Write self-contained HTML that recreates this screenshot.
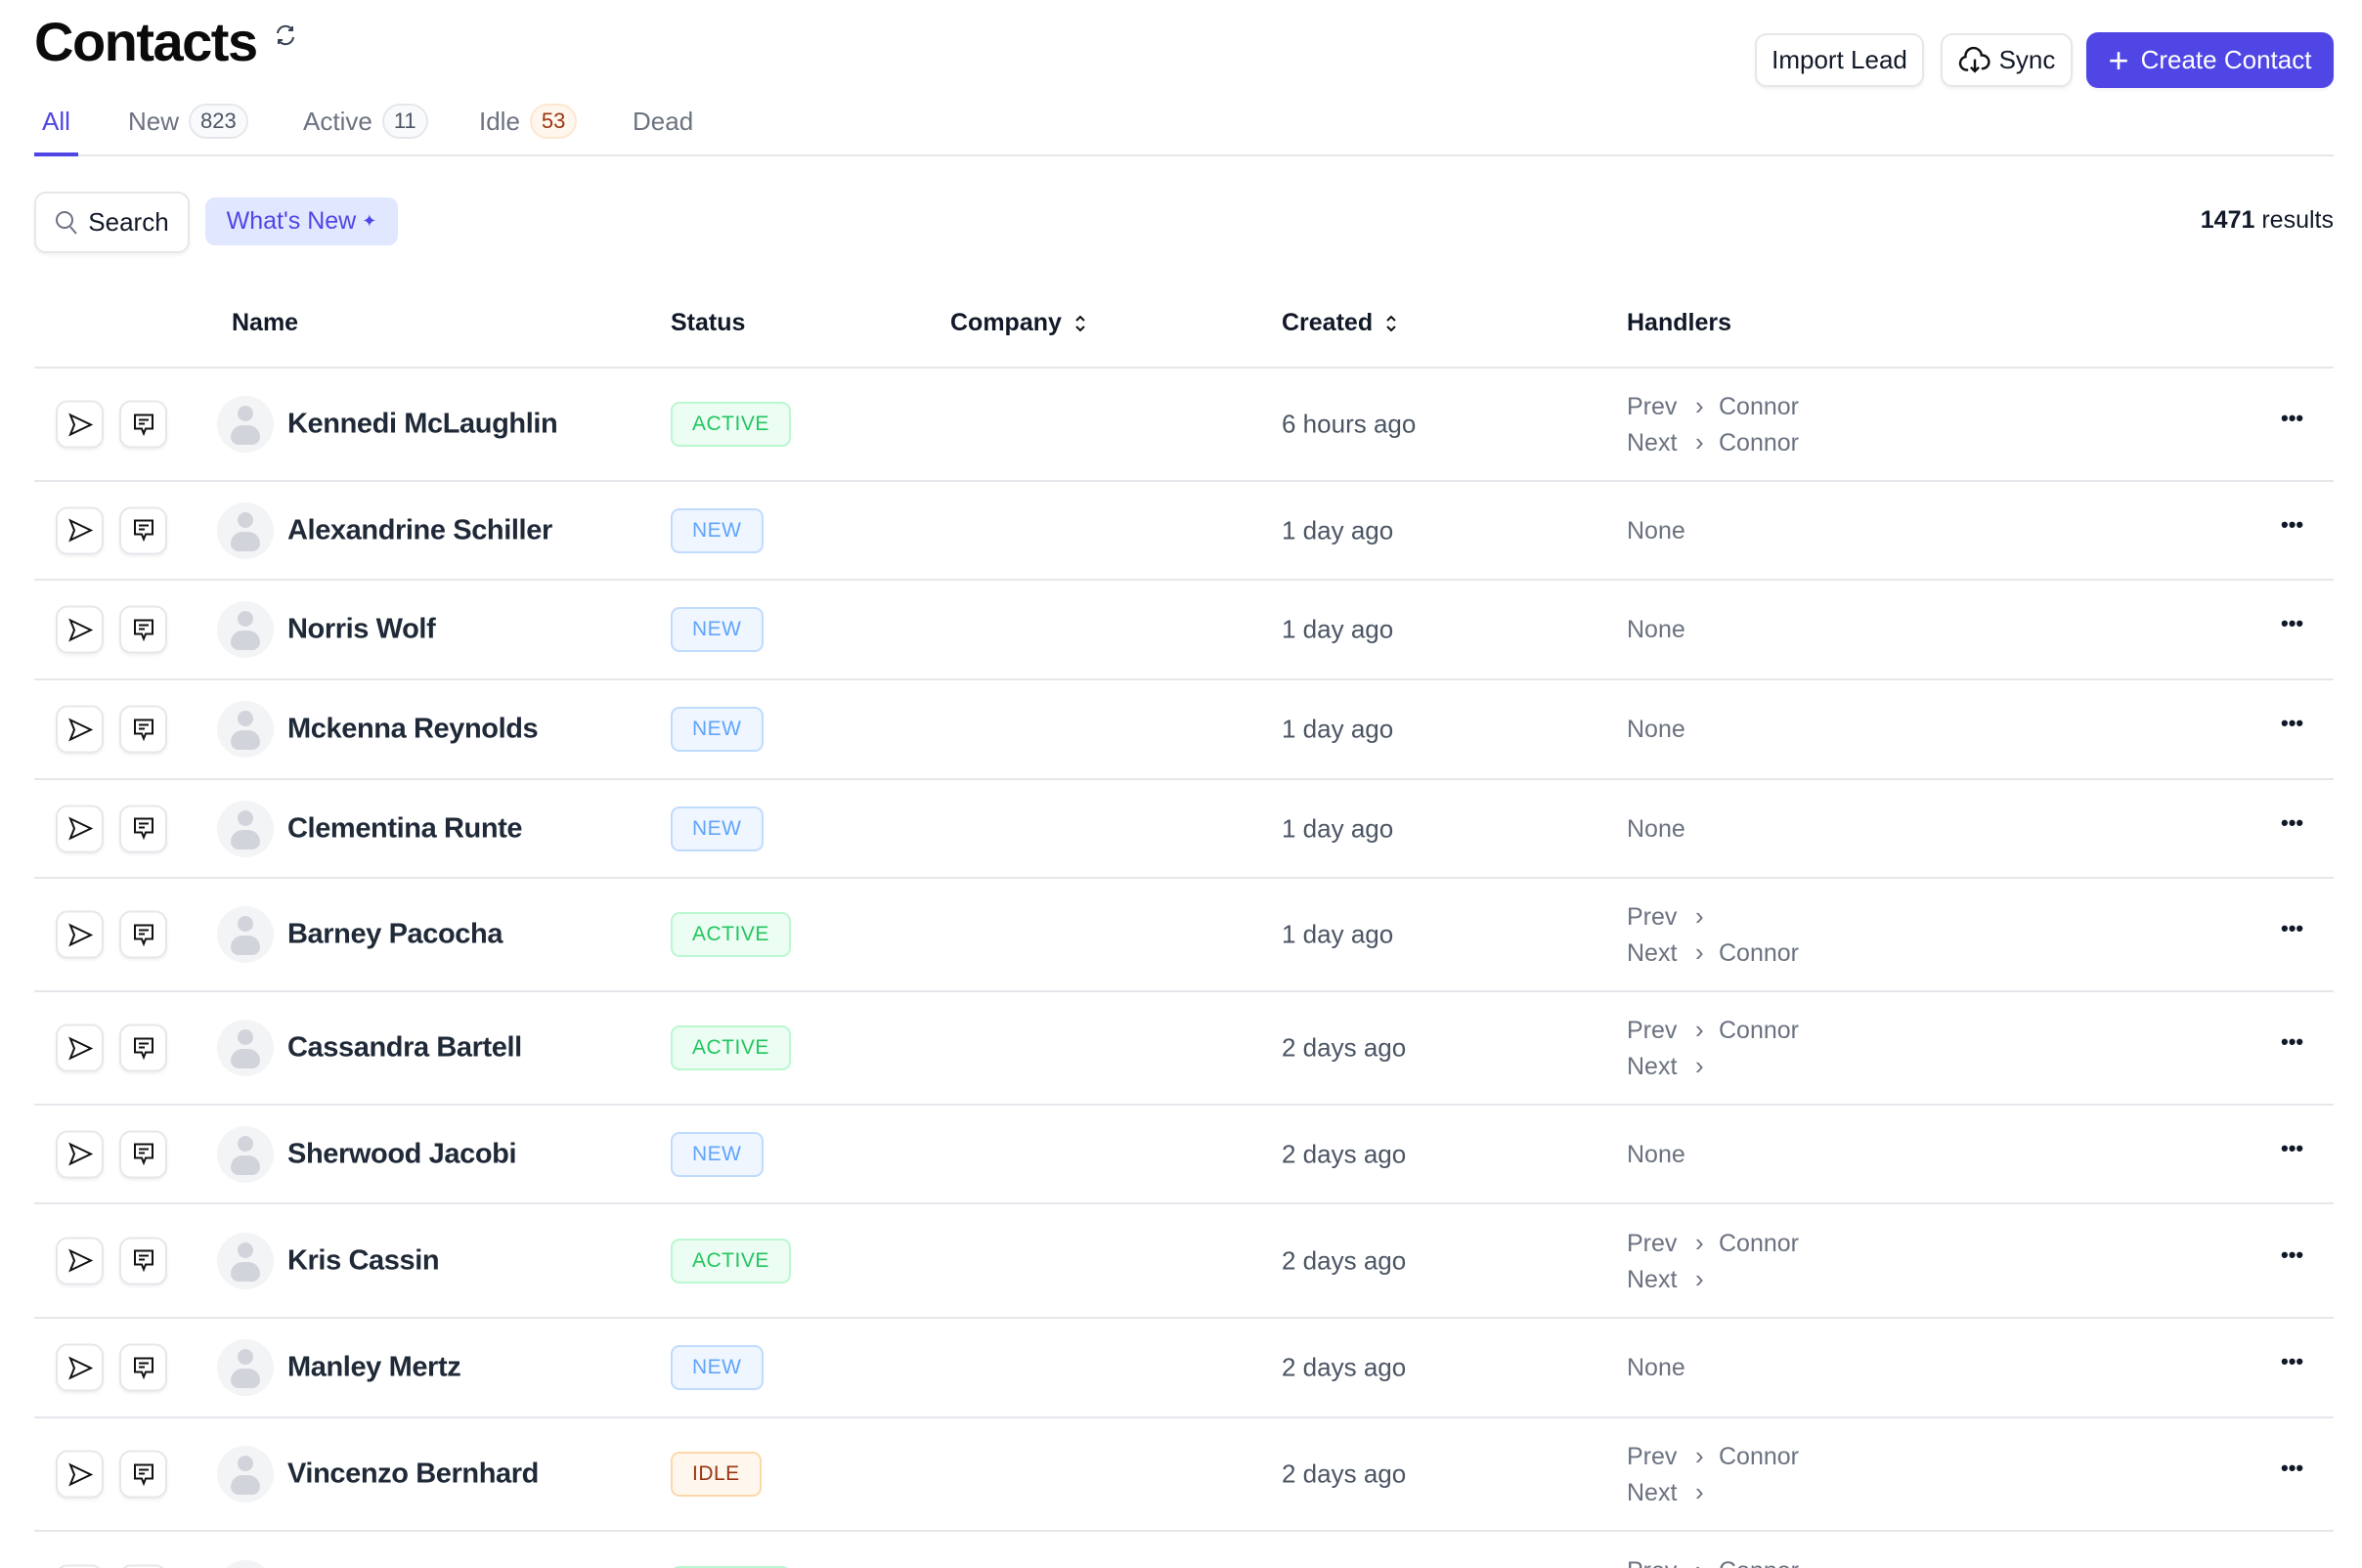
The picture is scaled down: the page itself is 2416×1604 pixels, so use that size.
<!DOCTYPE html>
<html style="height:1604px;overflow:hidden"><head><meta charset="utf-8"><style>
*{box-sizing:border-box;margin:0;padding:0}
body{width:2416px;height:1604px;overflow:hidden;background:#fff;font-family:"Liberation Sans",sans-serif;color:#111827;position:relative}
.a{position:absolute}
.btn{position:absolute;border:2px solid #e5e7eb;border-radius:12px;background:#fff;box-shadow:0 2px 3px rgba(0,0,0,.06);display:flex;align-items:center;justify-content:center;font-size:26px;color:#111827}
.tab{position:absolute;top:106px;font-size:26px;color:#6b7280;display:flex;align-items:center;height:36px}
.badge{display:inline-block;margin-left:10px;border:2px solid #e5e7eb;background:#f9fafb;border-radius:18px;padding:3px 10px;font-size:22px;color:#4b5563}
.th{position:absolute;top:316px;font-size:25px;font-weight:bold;color:#111827;display:flex;align-items:center}
.row{position:absolute;left:35px;width:2352px;border-bottom:2px solid #e5e7eb}
.row>*{position:absolute;top:50%;transform:translateY(-50%)}
.ib{width:49px;height:49px;border:2px solid #e5e7eb;border-radius:12px;box-shadow:0 2px 3px rgba(0,0,0,.06);display:flex;align-items:center;justify-content:center;background:#fff}
.av{left:187px;width:58px;height:58px;border-radius:50%;background:#f3f4f6;overflow:hidden}
.nm{left:259px;font-size:29px;font-weight:bold;color:#1f2937;letter-spacing:-0.4px}
.st{left:651px;height:46px;border-radius:9px;font-size:21px;display:flex;align-items:center;padding:0 20px;letter-spacing:0.5px}
.ac{background:#ecfdf3;border:2px solid #bbf7d0;color:#22c55e}
.nw{background:#eff6ff;border:2px solid #bfdbfe;color:#60a5fa}
.id{background:#fff7ed;border:2px solid #fed7aa;color:#9a3412}
.cr{left:1276px;font-size:26px;color:#4b5563}
.hd{left:1629px;font-size:25px;color:#6b7280;line-height:36px;white-space:nowrap}
.hd span{display:inline-block}
.p1{width:70px}.cv{width:24px;font-size:26px}
.dots{left:2298px;font-size:22px;font-weight:bold;letter-spacing:0px;color:#111827;margin-top:-6px}
</style></head><body>
<div class="a" style="left:35px;top:10px;font-size:56px;font-weight:bold;color:#0b0b0b;letter-spacing:-1.5px">Contacts</div>
<svg class="a" style="left:280px;top:24px" width="24" height="24" viewBox="0 0 24 24" fill="none" stroke="#374151" stroke-width="2"><path d="M4 10a8 8 0 0 1 15-3M20 14a8 8 0 0 1-15 3"/><path d="M19 3v4h-4M5 21v-4h4"/></svg>

<div class="btn" style="left:1795px;top:34px;width:173px;height:55px">Import Lead</div>
<div class="btn" style="left:1985px;top:34px;width:135px;height:55px"><svg width="34" height="30" viewBox="0 0 24 22" fill="none" stroke="#111" stroke-width="1.8" style="margin-right:8px"><path d="M7 18H6a5 5 0 0 1-1-9.9A6 6 0 0 1 17 7a5 5 0 0 1 1 10h-1"/><path d="M12 10v9M9 16l3 3 3-3"/></svg>Sync</div>
<div class="btn" style="left:2134px;top:33px;width:253px;height:57px;background:#4f46e5;border-color:#4f46e5;color:#fff"><span style="font-size:36px;margin-right:12px;font-weight:300;line-height:1">+</span>Create Contact</div>

<div class="tab" style="left:43px;color:#4f46e5">All</div>
<div class="tab" style="left:131px">New<span class="badge">823</span></div>
<div class="tab" style="left:310px">Active<span class="badge">11</span></div>
<div class="tab" style="left:490px">Idle<span class="badge" style="background:#fff7ed;border-color:#fde7d0;color:#9a3412">53</span></div>
<div class="tab" style="left:647px">Dead</div>
<div class="a" style="left:35px;top:158px;width:2352px;height:2px;background:#e5e7eb"></div>
<div class="a" style="left:35px;top:156px;width:45px;height:4px;background:#4f46e5"></div>

<div class="btn" style="left:35px;top:196px;width:159px;height:63px"><svg width="24" height="26" viewBox="0 0 24 26" fill="none" stroke="#6b7280" stroke-width="2" style="margin-right:10px"><circle cx="10" cy="10" r="8"/><path d="M16 17l6 7"/></svg>Search</div>
<div class="a" style="left:210px;top:202px;width:197px;height:49px;background:#e0e7ff;border-radius:10px;color:#4f46e5;font-size:25px;display:flex;align-items:center;justify-content:center">What's New <span style="font-size:18px;margin-left:6px">✦</span></div>
<div class="a" style="right:29px;top:211px;font-size:25px"><b>1471</b> results</div>

<div class="th" style="left:237px">Name</div>
<div class="th" style="left:686px">Status</div>
<div class="th" style="left:972px">Company<svg style="margin-left:12px" width="14" height="22" viewBox="0 0 14 22" fill="none" stroke="#111" stroke-width="2"><path d="M3 8l4-4 4 4M3 14l4 4 4-4"/></svg></div>
<div class="th" style="left:1311px">Created<svg style="margin-left:12px" width="14" height="22" viewBox="0 0 14 22" fill="none" stroke="#111" stroke-width="2"><path d="M3 8l4-4 4 4M3 14l4 4 4-4"/></svg></div>
<div class="th" style="left:1664px">Handlers</div>
<div class="a" style="left:35px;top:375px;width:2352px;height:2px;background:#e5e7eb"></div>

<div class="row" style="top:377px;height:116px"><div class="ib" style="left:22px"><svg width="26" height="24" viewBox="0 0 26 24" fill="none" stroke="#111" stroke-width="2"><path d="M3 2l21 10L3 22l4-10z"/></svg></div><div class="ib" style="left:87px"><svg width="26" height="26" viewBox="0 0 26 26" fill="none" stroke="#111" stroke-width="2"><path d="M4 3h18v14h-7l-2 5-2-5H4z"/><path d="M8 8h10M8 12h6"/></svg></div><div class="av"><div class="a" style="left:21px;top:10px;width:16px;height:16px;border-radius:50%;background:#d1d5db"></div><div class="a" style="left:14px;top:30px;width:30px;height:20px;border-radius:15px 15px 10px 10px;background:#d1d5db"></div></div><div class="nm">Kennedi McLaughlin</div><div class="st ac">ACTIVE</div><div class="cr">6 hours ago</div><div class="hd"><span class="p1">Prev</span><span class="cv">›</span>Connor<br><span class="p1">Next</span><span class="cv">›</span>Connor</div><div class="dots">•••</div></div>

<div class="row" style="top:493px;height:101px"><div class="ib" style="left:22px"><svg width="26" height="24" viewBox="0 0 26 24" fill="none" stroke="#111" stroke-width="2"><path d="M3 2l21 10L3 22l4-10z"/></svg></div><div class="ib" style="left:87px"><svg width="26" height="26" viewBox="0 0 26 26" fill="none" stroke="#111" stroke-width="2"><path d="M4 3h18v14h-7l-2 5-2-5H4z"/><path d="M8 8h10M8 12h6"/></svg></div><div class="av"><div class="a" style="left:21px;top:10px;width:16px;height:16px;border-radius:50%;background:#d1d5db"></div><div class="a" style="left:14px;top:30px;width:30px;height:20px;border-radius:15px 15px 10px 10px;background:#d1d5db"></div></div><div class="nm">Alexandrine Schiller</div><div class="st nw">NEW</div><div class="cr">1 day ago</div><div class="hd">None</div><div class="dots">•••</div></div>

<div class="row" style="top:594px;height:102px"><div class="ib" style="left:22px"><svg width="26" height="24" viewBox="0 0 26 24" fill="none" stroke="#111" stroke-width="2"><path d="M3 2l21 10L3 22l4-10z"/></svg></div><div class="ib" style="left:87px"><svg width="26" height="26" viewBox="0 0 26 26" fill="none" stroke="#111" stroke-width="2"><path d="M4 3h18v14h-7l-2 5-2-5H4z"/><path d="M8 8h10M8 12h6"/></svg></div><div class="av"><div class="a" style="left:21px;top:10px;width:16px;height:16px;border-radius:50%;background:#d1d5db"></div><div class="a" style="left:14px;top:30px;width:30px;height:20px;border-radius:15px 15px 10px 10px;background:#d1d5db"></div></div><div class="nm">Norris Wolf</div><div class="st nw">NEW</div><div class="cr">1 day ago</div><div class="hd">None</div><div class="dots">•••</div></div>

<div class="row" style="top:696px;height:102px"><div class="ib" style="left:22px"><svg width="26" height="24" viewBox="0 0 26 24" fill="none" stroke="#111" stroke-width="2"><path d="M3 2l21 10L3 22l4-10z"/></svg></div><div class="ib" style="left:87px"><svg width="26" height="26" viewBox="0 0 26 26" fill="none" stroke="#111" stroke-width="2"><path d="M4 3h18v14h-7l-2 5-2-5H4z"/><path d="M8 8h10M8 12h6"/></svg></div><div class="av"><div class="a" style="left:21px;top:10px;width:16px;height:16px;border-radius:50%;background:#d1d5db"></div><div class="a" style="left:14px;top:30px;width:30px;height:20px;border-radius:15px 15px 10px 10px;background:#d1d5db"></div></div><div class="nm">Mckenna Reynolds</div><div class="st nw">NEW</div><div class="cr">1 day ago</div><div class="hd">None</div><div class="dots">•••</div></div>

<div class="row" style="top:798px;height:101px"><div class="ib" style="left:22px"><svg width="26" height="24" viewBox="0 0 26 24" fill="none" stroke="#111" stroke-width="2"><path d="M3 2l21 10L3 22l4-10z"/></svg></div><div class="ib" style="left:87px"><svg width="26" height="26" viewBox="0 0 26 26" fill="none" stroke="#111" stroke-width="2"><path d="M4 3h18v14h-7l-2 5-2-5H4z"/><path d="M8 8h10M8 12h6"/></svg></div><div class="av"><div class="a" style="left:21px;top:10px;width:16px;height:16px;border-radius:50%;background:#d1d5db"></div><div class="a" style="left:14px;top:30px;width:30px;height:20px;border-radius:15px 15px 10px 10px;background:#d1d5db"></div></div><div class="nm">Clementina Runte</div><div class="st nw">NEW</div><div class="cr">1 day ago</div><div class="hd">None</div><div class="dots">•••</div></div>

<div class="row" style="top:899px;height:116px"><div class="ib" style="left:22px"><svg width="26" height="24" viewBox="0 0 26 24" fill="none" stroke="#111" stroke-width="2"><path d="M3 2l21 10L3 22l4-10z"/></svg></div><div class="ib" style="left:87px"><svg width="26" height="26" viewBox="0 0 26 26" fill="none" stroke="#111" stroke-width="2"><path d="M4 3h18v14h-7l-2 5-2-5H4z"/><path d="M8 8h10M8 12h6"/></svg></div><div class="av"><div class="a" style="left:21px;top:10px;width:16px;height:16px;border-radius:50%;background:#d1d5db"></div><div class="a" style="left:14px;top:30px;width:30px;height:20px;border-radius:15px 15px 10px 10px;background:#d1d5db"></div></div><div class="nm">Barney Pacocha</div><div class="st ac">ACTIVE</div><div class="cr">1 day ago</div><div class="hd"><span class="p1">Prev</span><span class="cv">›</span><br><span class="p1">Next</span><span class="cv">›</span>Connor</div><div class="dots">•••</div></div>

<div class="row" style="top:1015px;height:116px"><div class="ib" style="left:22px"><svg width="26" height="24" viewBox="0 0 26 24" fill="none" stroke="#111" stroke-width="2"><path d="M3 2l21 10L3 22l4-10z"/></svg></div><div class="ib" style="left:87px"><svg width="26" height="26" viewBox="0 0 26 26" fill="none" stroke="#111" stroke-width="2"><path d="M4 3h18v14h-7l-2 5-2-5H4z"/><path d="M8 8h10M8 12h6"/></svg></div><div class="av"><div class="a" style="left:21px;top:10px;width:16px;height:16px;border-radius:50%;background:#d1d5db"></div><div class="a" style="left:14px;top:30px;width:30px;height:20px;border-radius:15px 15px 10px 10px;background:#d1d5db"></div></div><div class="nm">Cassandra Bartell</div><div class="st ac">ACTIVE</div><div class="cr">2 days ago</div><div class="hd"><span class="p1">Prev</span><span class="cv">›</span>Connor<br><span class="p1">Next</span><span class="cv">›</span></div><div class="dots">•••</div></div>

<div class="row" style="top:1131px;height:101px"><div class="ib" style="left:22px"><svg width="26" height="24" viewBox="0 0 26 24" fill="none" stroke="#111" stroke-width="2"><path d="M3 2l21 10L3 22l4-10z"/></svg></div><div class="ib" style="left:87px"><svg width="26" height="26" viewBox="0 0 26 26" fill="none" stroke="#111" stroke-width="2"><path d="M4 3h18v14h-7l-2 5-2-5H4z"/><path d="M8 8h10M8 12h6"/></svg></div><div class="av"><div class="a" style="left:21px;top:10px;width:16px;height:16px;border-radius:50%;background:#d1d5db"></div><div class="a" style="left:14px;top:30px;width:30px;height:20px;border-radius:15px 15px 10px 10px;background:#d1d5db"></div></div><div class="nm">Sherwood Jacobi</div><div class="st nw">NEW</div><div class="cr">2 days ago</div><div class="hd">None</div><div class="dots">•••</div></div>

<div class="row" style="top:1232px;height:117px"><div class="ib" style="left:22px"><svg width="26" height="24" viewBox="0 0 26 24" fill="none" stroke="#111" stroke-width="2"><path d="M3 2l21 10L3 22l4-10z"/></svg></div><div class="ib" style="left:87px"><svg width="26" height="26" viewBox="0 0 26 26" fill="none" stroke="#111" stroke-width="2"><path d="M4 3h18v14h-7l-2 5-2-5H4z"/><path d="M8 8h10M8 12h6"/></svg></div><div class="av"><div class="a" style="left:21px;top:10px;width:16px;height:16px;border-radius:50%;background:#d1d5db"></div><div class="a" style="left:14px;top:30px;width:30px;height:20px;border-radius:15px 15px 10px 10px;background:#d1d5db"></div></div><div class="nm">Kris Cassin</div><div class="st ac">ACTIVE</div><div class="cr">2 days ago</div><div class="hd"><span class="p1">Prev</span><span class="cv">›</span>Connor<br><span class="p1">Next</span><span class="cv">›</span></div><div class="dots">•••</div></div>

<div class="row" style="top:1349px;height:102px"><div class="ib" style="left:22px"><svg width="26" height="24" viewBox="0 0 26 24" fill="none" stroke="#111" stroke-width="2"><path d="M3 2l21 10L3 22l4-10z"/></svg></div><div class="ib" style="left:87px"><svg width="26" height="26" viewBox="0 0 26 26" fill="none" stroke="#111" stroke-width="2"><path d="M4 3h18v14h-7l-2 5-2-5H4z"/><path d="M8 8h10M8 12h6"/></svg></div><div class="av"><div class="a" style="left:21px;top:10px;width:16px;height:16px;border-radius:50%;background:#d1d5db"></div><div class="a" style="left:14px;top:30px;width:30px;height:20px;border-radius:15px 15px 10px 10px;background:#d1d5db"></div></div><div class="nm">Manley Mertz</div><div class="st nw">NEW</div><div class="cr">2 days ago</div><div class="hd">None</div><div class="dots">•••</div></div>

<div class="row" style="top:1451px;height:116px"><div class="ib" style="left:22px"><svg width="26" height="24" viewBox="0 0 26 24" fill="none" stroke="#111" stroke-width="2"><path d="M3 2l21 10L3 22l4-10z"/></svg></div><div class="ib" style="left:87px"><svg width="26" height="26" viewBox="0 0 26 26" fill="none" stroke="#111" stroke-width="2"><path d="M4 3h18v14h-7l-2 5-2-5H4z"/><path d="M8 8h10M8 12h6"/></svg></div><div class="av"><div class="a" style="left:21px;top:10px;width:16px;height:16px;border-radius:50%;background:#d1d5db"></div><div class="a" style="left:14px;top:30px;width:30px;height:20px;border-radius:15px 15px 10px 10px;background:#d1d5db"></div></div><div class="nm">Vincenzo Bernhard</div><div class="st id">IDLE</div><div class="cr">2 days ago</div><div class="hd"><span class="p1">Prev</span><span class="cv">›</span>Connor<br><span class="p1">Next</span><span class="cv">›</span></div><div class="dots">•••</div></div>

<div class="row" style="top:1567px;height:116px;border:none"><div class="ib" style="left:22px"></div><div class="ib" style="left:87px"></div><div class="av"></div><div class="st ac">ACTIVE</div><div class="hd"><span class="p1">Prev</span><span class="cv">›</span>Connor<br><span class="p1">Next</span><span class="cv">›</span></div></div>
</body></html>
